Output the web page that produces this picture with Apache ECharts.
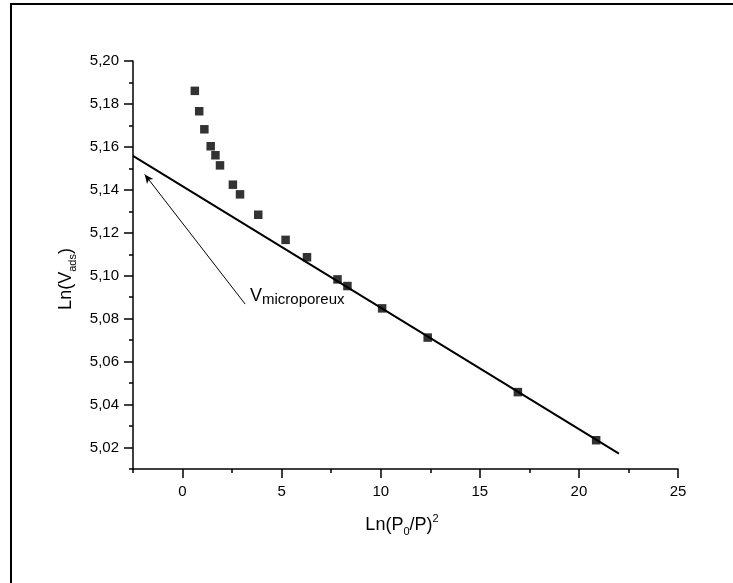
<!DOCTYPE html>
<html>
<head>
<meta charset="utf-8">
<script src="https://cdn.jsdelivr.net/npm/echarts@6/dist/echarts.min.js"></script>
<style>
html, body { margin: 0; padding: 0; background: #fff; }
#container { width: 733px; height: 583px; }
</style>
</head>
<body>
<div id="container"></div>
<script>
// points
var xVals = [0.62, 0.84, 1.10, 1.42, 1.66, 1.89, 2.54, 2.90, 3.82, 5.20, 6.28, 7.82, 8.32, 10.07, 12.37, 16.92, 20.87];
var yVals = [5.1861, 5.1766, 5.1682, 5.1603, 5.1561, 5.1514, 5.1424, 5.1379, 5.1284, 5.1167, 5.1086, 5.0983, 5.0952, 5.0848, 5.0712, 5.0458, 5.0234];
// fitted straight line (end points)
var fitX = [-2.5, 22.02];
var fitY = [5.1558, 5.0172];
// annotation arrow (from, to)
var arrowFrom = [3.16, 5.0868];
var arrowTo = [-1.91, 5.1472];
var xMajor = [0, 5, 10, 15, 20, 25];
var yMajor = [5.02, 5.04, 5.06, 5.08, 5.10, 5.12, 5.14, 5.16, 5.18, 5.20];

var dom = document.getElementById("container");
var myChart = echarts.init(dom);

var pts = xVals.map(function (x, i) { return [x, yVals[i]]; });
var fit = fitX.map(function (x, i) { return [x, fitY[i]]; });

var font = "Liberation Sans, Arial, sans-serif";

option = {
    animation: false,
    backgroundColor: "#fff",
    grid: { left: 133, top: 61, right: 55, bottom: 114 },
    xAxis: [
        {
            type: 'value',
            min: -2.5, max: 25, interval: 2.5,
            splitLine: { show: false },
            axisLine: { onZero: false, lineStyle: { color: "#000", width: 1.5 } },
            axisTick: { length: 4, lineStyle: { color: "#000", width: 1.5 } },
            axisLabel: {
                margin: 15, color: "#000", fontSize: 15, fontFamily: font,
                formatter: function (v) { return (Math.round(v * 10) % 50 === 0) ? String(v) : ''; }
            }
        },
        {
            type: 'value',
            min: -2.5, max: 25,
            position: 'bottom',
            splitLine: { show: false },
            axisLine: { show: false, onZero: false },
            axisTick: { length: 9, customValues: xMajor, lineStyle: { color: "#000", width: 1.5 } },
            axisLabel: { show: false }
        }
    ],
    yAxis: [
        {
            type: 'value',
            min: 5.01, max: 5.20, interval: 0.01,
            splitLine: { show: false },
            axisLine: { onZero: false, lineStyle: { color: "#000", width: 1.5 } },
            axisTick: { length: 4, lineStyle: { color: "#000", width: 1.5 } },
            axisLabel: {
                margin: 14, color: "#000", fontSize: 15, fontFamily: font,
                formatter: function (v) {
                    return (Math.round(v * 100) % 2 === 0) ? v.toFixed(2).replace('.', ',') : '';
                }
            }
        },
        {
            type: 'value',
            min: 5.01, max: 5.20,
            position: 'left',
            splitLine: { show: false },
            axisLine: { show: false, onZero: false },
            axisTick: { length: 9, customValues: yMajor, lineStyle: { color: "#000", width: 1.5 } },
            axisLabel: { show: false }
        }
    ],
    series: [
        {
            name: 'fit',
            type: 'line',
            data: fit,
            symbol: 'none',
            lineStyle: { color: "#000", width: 2 },
            markLine: {
                silent: true,
                symbol: ['none', 'arrow'],
                symbolSize: [6, 9],
                label: { show: false },
                lineStyle: { color: "#000", width: 1, type: 'solid' },
                data: [[{ coord: arrowFrom }, { coord: arrowTo }]]
            }
        },
        {
            name: 'data',
            type: 'scatter',
            data: pts,
            symbol: 'rect',
            symbolSize: 8.5,
            itemStyle: { color: "#000" }
        }
    ],
    graphic: [
        // outer frame: only left and top edges are inside the picture
        {
            type: 'line',
            shape: { x1: 11, y1: 4, x2: 11, y2: 583 },
            style: { stroke: '#000', lineWidth: 2 }
        },
        {
            type: 'line',
            shape: { x1: 10, y1: 4, x2: 733, y2: 4 },
            style: { stroke: '#000', lineWidth: 2 }
        },
        {
            type: 'text',
            x: 402, y: 525,
            style: {
                text: '{m|Ln(P}{s|0}{m|/P)}{p|2}',
                align: 'center', verticalAlign: 'middle',
                rich: {
                    m: { fontSize: 18, fontFamily: font, fill: '#000', lineHeight: 24 },
                    s: { fontSize: 11, fontFamily: font, fill: '#000', lineHeight: 11, verticalAlign: 'bottom' },
                    p: { fontSize: 11, fontFamily: font, fill: '#000', lineHeight: 11, verticalAlign: 'top' }
                }
            }
        },
        {
            type: 'text',
            x: 66, y: 279,
            rotation: Math.PI / 2,
            style: {
                text: '{m|Ln(V}{s|ads}{m|)}',
                align: 'center', verticalAlign: 'middle',
                rich: {
                    m: { fontSize: 18, fontFamily: font, fill: '#000', lineHeight: 24 },
                    s: { fontSize: 11, fontFamily: font, fill: '#000', lineHeight: 11, verticalAlign: 'bottom' }
                }
            }
        },
        {
            type: 'text',
            x: 250, y: 296,
            style: {
                text: '{m|V}{s|microporeux}',
                align: 'left', verticalAlign: 'middle',
                rich: {
                    m: { fontSize: 18, fontFamily: font, fill: '#000', lineHeight: 22 },
                    s: { fontSize: 15, fontFamily: font, fill: '#000', lineHeight: 14, verticalAlign: 'bottom' }
                }
            }
        }
    ]
};

if (option && typeof option === "object") {
    myChart.setOption(option, true);
}
</script>
</body>
</html>
